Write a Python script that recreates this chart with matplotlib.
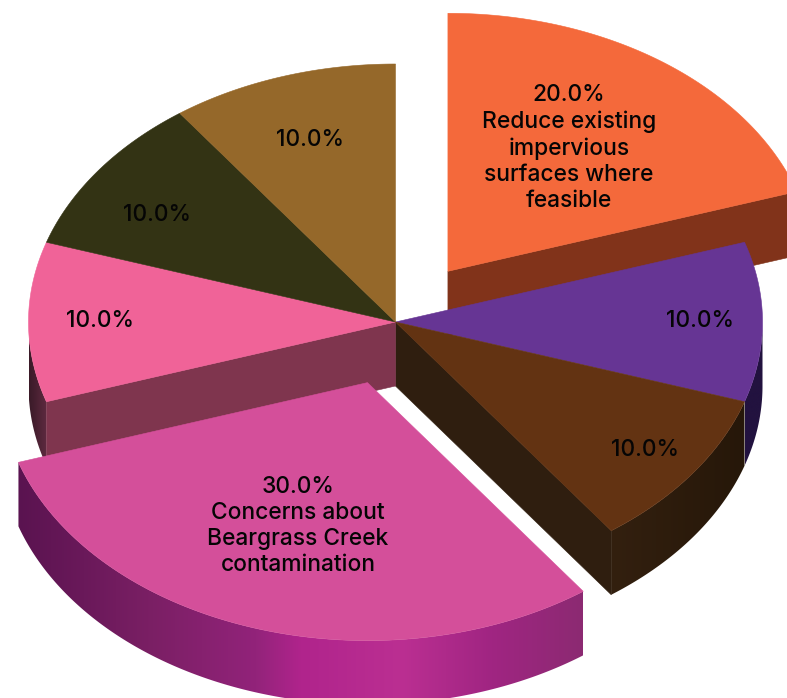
import numpy as np
import matplotlib
matplotlib.use("Agg")
import matplotlib.pyplot as plt
from matplotlib.colors import LinearSegmentedColormap
from matplotlib.patches import Polygon

# Slice shares in percent, clockwise from twelve o'clock
shares = [20.0, 10.0, 10.0, 30.0, 10.0, 10.0, 10.0]
captions = [
    "Reduce existing\nimpervious\nsurfaces where\nfeasible",
    "", "",
    "Concerns about\nBeargrass Creek\ncontamination",
    "", "", "",
]
explode = [0.243, 0, 0, 0.247, 0, 0, 0]
top_colors = ["#F4693B", "#663594", "#633312", "#D44F9A", "#F06398", "#333314", "#95682A"]
cut_colors = ["#81331A", None, "#2F1E0F", None, "#7F354E", None, None]

# Projection of the tilted disc, in pixels
CX, CY, RX, RY, DEPTH = 395.5, 322.0, 367.0, 258.0, 64.0
W, H = 787, 698

# Label centres in pixels
label_xy = [(569, 148), (700, 321), (645, 450), (298, 526), (100, 321), (157, 215), (310, 140)]

# Rim shading, stops given along the horizontal pixel position
rim_shades = {
    1: [(0, "#22123F"), (1, "#22123F")],
    2: [(0, "#33200F"), (1, "#261709")],
    3: [(0, "#5A1350"), (0.23, "#7A1F64"), (0.42, "#92237A"), (0.5, "#B0248C"),
        (0.68, "#BB2F92"), (0.84, "#A02582"), (1, "#8C2A72")],
    4: [(0, "#3A1A28"), (1, "#5E2A40")],
}

plt.rcParams["font.family"] = ["Inter", "DejaVu Sans"]
fig = plt.figure(figsize=(W / 100, H / 100), dpi=100)
ax = fig.add_axes([0, 0, 1, 1])


def origin(i):
    mid = (edges[i] + edges[i + 1]) / 2
    return CX + explode[i] * RX * np.cos(mid), CY - explode[i] * RY * np.sin(mid)


def arc(i, n=160):
    ox, oy = origin(i)
    t = np.linspace(edges[i], edges[i + 1], n)
    return ox + RX * np.cos(t), oy - RY * np.sin(t)


def draw_top(i, z):
    ox, oy = origin(i)
    x, y = arc(i)
    pts = np.column_stack([np.r_[ox, x], np.r_[oy, y]])
    ax.add_patch(Polygon(pts, closed=True, fc=top_colors[i], ec=top_colors[i], lw=0.4, zorder=z))


def draw_cut(i, end, z):
    # Flat inner wall along the radial edge at the given end of the slice
    ox, oy = origin(i)
    x, y = arc(i)
    ex, ey = x[end], y[end]
    pts = [(ox, oy), (ex, ey), (ex, ey + DEPTH), (ox, oy + DEPTH)]
    ax.add_patch(Polygon(pts, closed=True, fc=cut_colors[i], ec=cut_colors[i], lw=0.4, zorder=z))


def draw_rim(i, z):
    # Outer wall: a horizontal colour ramp clipped to the wall's outline
    ox, oy = origin(i)
    t = np.linspace(edges[i + 1], edges[i], 300)
    t = t[np.sin(t) <= 0]
    x = ox + RX * np.cos(t)
    y = oy - RY * np.sin(t)
    outline = np.column_stack([np.r_[x, x[::-1]], np.r_[y, y[::-1] + DEPTH]])
    wall = Polygon(outline, closed=True, fc="none", ec="none", transform=ax.transData)
    ax.add_patch(wall)
    cmap = LinearSegmentedColormap.from_list("rim", rim_shades[i])
    ramp = np.linspace(0, 1, 512).reshape(1, -1)
    im = ax.imshow(ramp, cmap=cmap, aspect="auto", zorder=z, interpolation="bilinear",
                   extent=(x.min(), x.max(), (y + DEPTH).max(), y.min()))
    im.set_clip_path(wall)


fractions = np.array(shares) / sum(shares)
edges = np.pi / 2 - 2 * np.pi * np.concatenate([[0], np.cumsum(fractions)])

# Back to front: detached upper slice, seated slices, detached lower slice
draw_cut(0, -1, 1)
draw_top(0, 2)

for i in (1, 2, 4):
    draw_rim(i, 3)
draw_cut(2, -1, 4)
draw_cut(4, 0, 4)
for i in (1, 2, 4, 5, 6):
    draw_top(i, 5)

draw_rim(3, 6)
draw_top(3, 7)

for i, share in enumerate(shares):
    text = f"{share:.1f}%"
    if captions[i]:
        text += "\n" + captions[i]
    ax.text(*label_xy[i], text, ha="center", va="center", fontsize=16.4,
            fontweight="medium", color="#050505", linespacing=1.25, zorder=10)

ax.set_xlim(0, W)
ax.set_ylim(H, 0)
ax.axis("off")

fig.savefig("out.png", dpi=100)
